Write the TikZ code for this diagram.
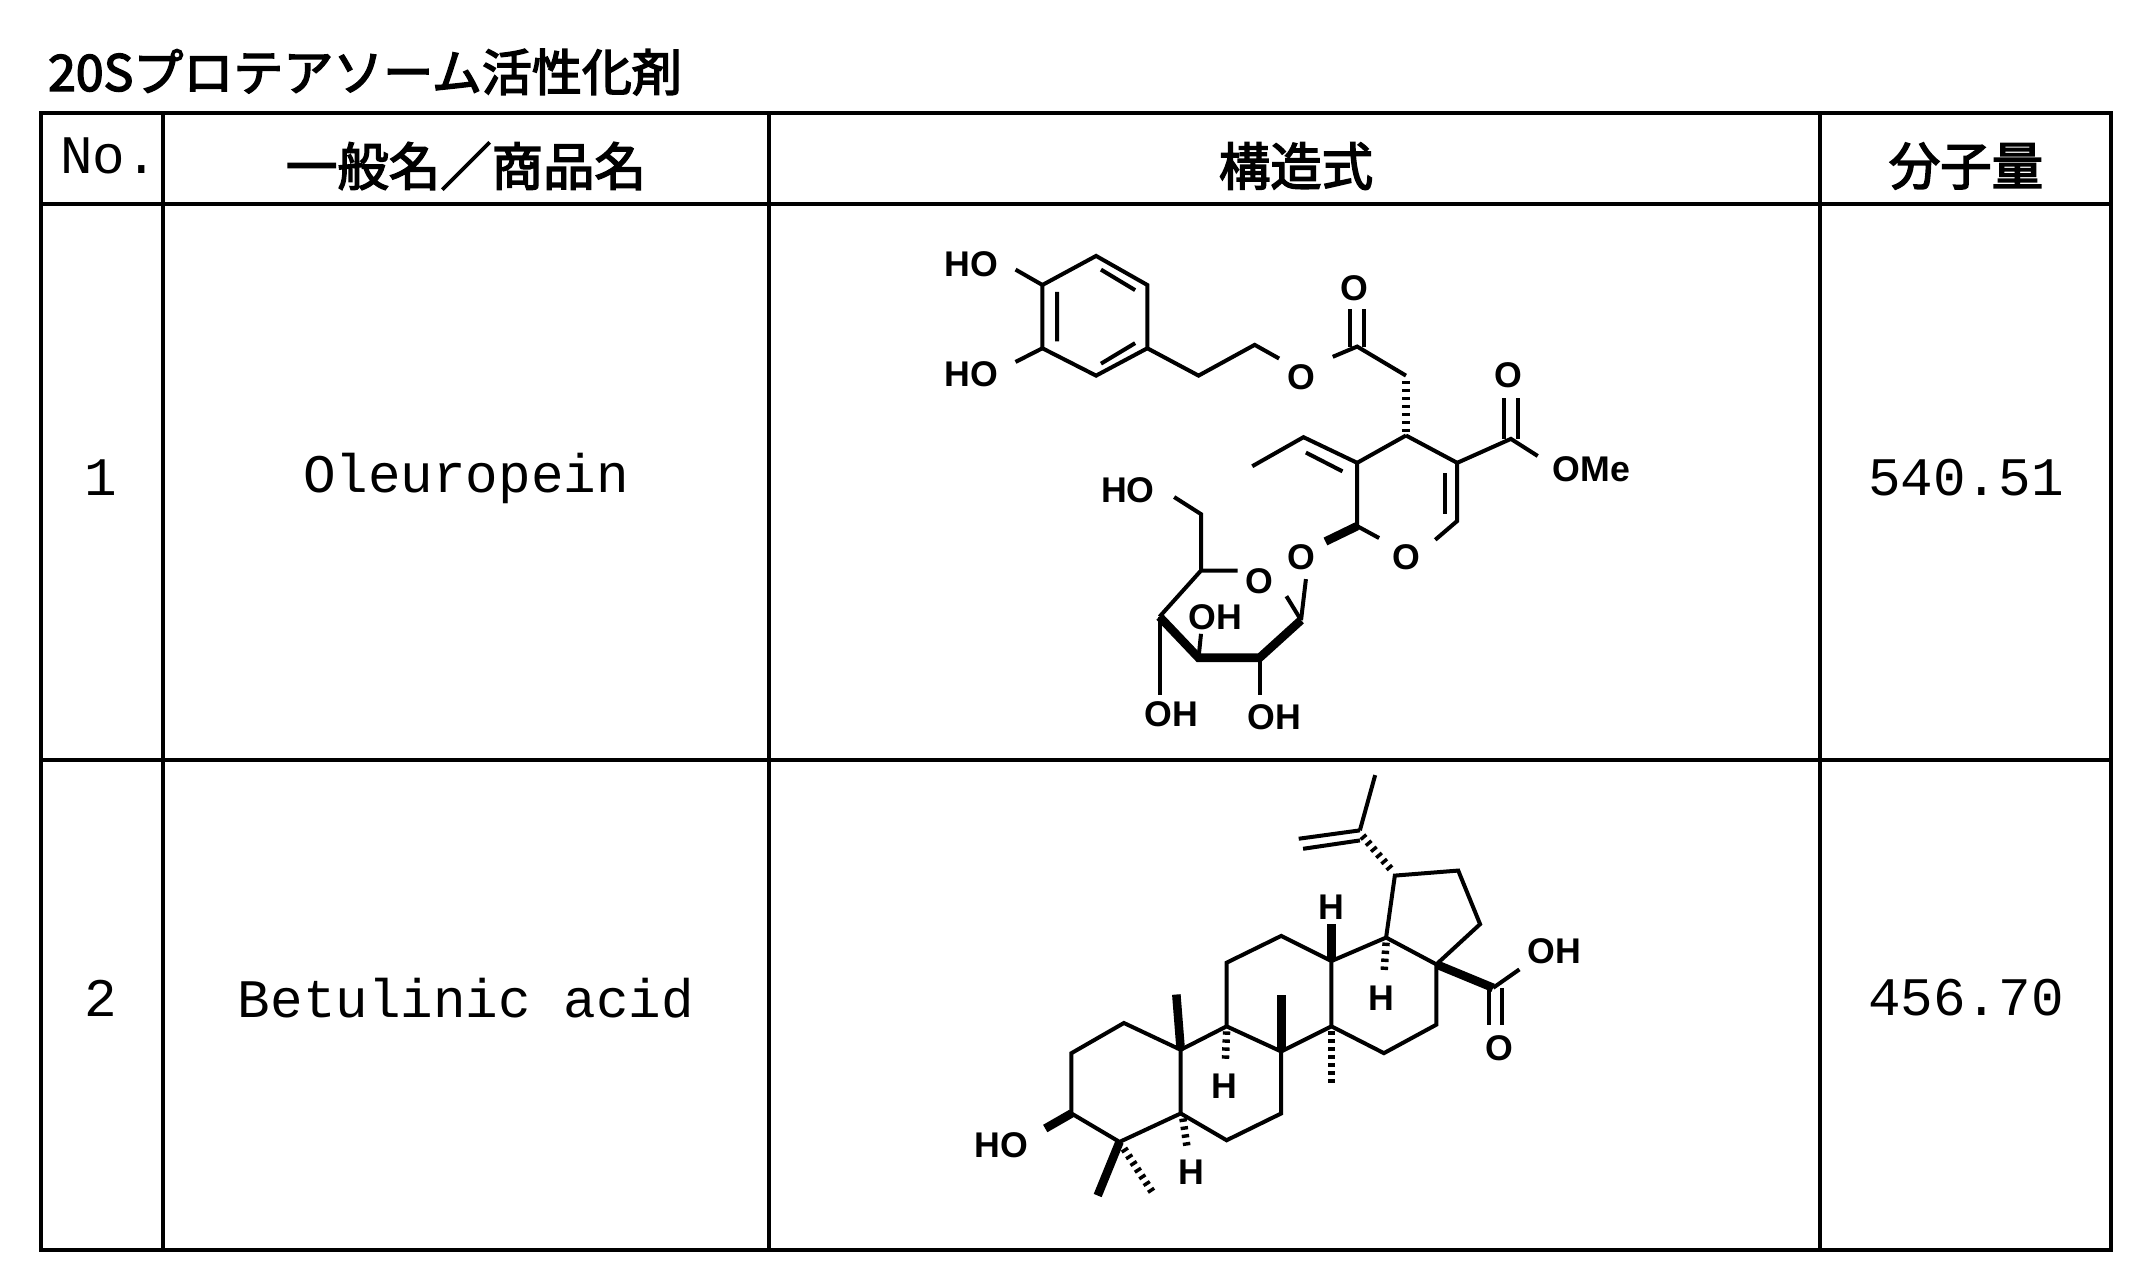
\documentclass[tikz,border=0pt]{standalone}
\usepackage{fontspec}
\setmainfont{Liberation Sans}
\newfontfamily\cjk{Noto Sans CJK JP}[AutoFakeBold=3]
\newfontfamily\mono{Liberation Mono}
\begin{document}
\begin{tikzpicture}[x=0.35pt,y=-0.35pt,
 grid/.style={line width=1.1pt},
 bd/.style={line width=1.4pt},
 wd/.style={line width=3pt},
 hs/.style={line width=2.6pt,dash pattern=on 1.2pt off 1.6pt},
 lab/.style={font=\bfseries\fontsize{12.5}{12.5}\selectfont,inner sep=0.5pt},
 hd/.style={font=\cjk\bfseries\fontsize{18}{18}\selectfont},
 cell/.style={font=\mono\fontsize{19}{19}\selectfont}]
\useasboundingbox (0,0) rectangle (2154,1279);
\node[font=\cjk\bfseries\fontsize{17.5}{17.5}\selectfont,anchor=west] (title) at (38,72) {20Sプロテアソーム活性化剤};
% table
\draw[grid] (41,113) rectangle (2111,1250);
\draw[grid] (41,204) -- (2111,204) (41,760) -- (2111,760);
\draw[grid] (163,113) -- (163,1250) (769,113) -- (769,1250) (1820,113) -- (1820,1250);
\node[cell,anchor=west] (no) at (50,156) {No.};
\node[hd] (h1) at (466,166) {一般名／商品名};
\node[hd] (h2) at (1296,166) {構造式};
\node[hd] (h3) at (1966,166) {分子量};
\node[cell] (n1) at (101,478) {1};
\node[cell] (c1) at (466,478) {Oleuropein};
\node[cell] (m1) at (1966,478) {540.51};
\node[cell] (n2) at (101,998) {2};
\node[cell] (c2) at (466,998) {Betulinic acid};
\node[cell] (m2) at (1966,998) {456.70};
% Oleuropein
\begin{scope}[shift={(896,220)},xscale=0.488,yscale=0.342]
\draw[bd] (410,105)--(515,190)--(515,375)--(410,455)--(300,375)--(300,190)--cycle;
\draw[bd] (420,145)--(490,205) (330,210)--(330,355) (420,420)--(490,360);
\draw[bd] (245,145)--(300,190) (245,415)--(300,375);
\node[lab] (ho1) at (155,130) {HO};
\node[lab] (ho2) at (155,450) {HO};
\draw[bd] (515,375)--(620,455)--(735,365)--(785,405);
\node[lab] (o1) at (830,460) {O};
\draw[bd] (895,400)--(945,370)--(1045,455);
\draw[bd] (930,370)--(930,260) (960,370)--(960,260);
\node[lab] (o2) at (940,200) {O};
\draw[hs] (1045,470)--(1045,625);
\draw[bd] (1045,630)--(1150,710)--(1150,880)--(1105,935);
\draw[bd] (1125,740)--(1125,860);
\node[lab] (o3) at (1045,985) {O};
\draw[bd] (990,930)--(945,895)--(945,710)--(1045,630);
\draw[bd] (945,710)--(835,635)--(730,720) (915,735)--(840,680);
\draw[bd] (1150,710)--(1260,640)--(1315,690);
\draw[bd] (1245,640)--(1245,520) (1275,640)--(1275,520);
\node[lab] (o4) at (1255,455) {O};
\node[lab] (ome) at (1425,730) {OMe};
\draw[wd] (945,895)--(880,940);
\node[lab] (o5) at (830,985) {O};
\draw[bd] (840,1050)--(830,1170);
\draw[bd] (800,1100)--(830,1170);
\node[lab] (o6) at (745,1055) {O};
\draw[bd] (700,1025)--(625,1025)--(540,1160);
\draw[wd] (540,1160)--(620,1280)--(745,1280)--(830,1170);
\draw[bd] (625,1025)--(625,860)--(570,810);
\node[lab] (ho3) at (475,790) {HO};
\draw[bd] (620,1280)--(625,1210);
\node[lab] (oh1) at (655,1160) {OH};
\draw[bd] (540,1160)--(540,1390);
\node[lab] (oh2) at (565,1445) {OH};
\draw[bd] (745,1280)--(745,1390);
\node[lab] (oh3) at (775,1455) {OH};
\end{scope}
% Betulinic acid
\begin{scope}[shift={(936,760)},xscale=0.437,yscale=0.335]
\draw[bd] (430,785)--(560,865)--(560,1055)--(420,1140)--(310,1055)--(310,875)--cycle;
\draw[bd] (560,865)--(665,795)--(790,870)--(790,1055)--(665,1135)--(560,1055);
\draw[bd] (665,795)--(665,605)--(790,525)--(905,600)--(905,795)--(790,870);
\draw[bd] (905,600)--(1030,530)--(1145,610)--(1145,790)--(1025,875)--(905,795);
\draw[bd] (1030,530)--(1050,345)--(1195,330)--(1245,490)--(1145,610);
\draw[hs] (1040,325)--(975,225);
\draw[bd] (970,210)--(1005,45);
\draw[bd] (970,210)--(830,235) (970,240)--(840,265);
\draw[wd] (1145,610)--(1275,680);
\draw[bd] (1275,680)--(1335,625);
\node[lab] (oh4) at (1415,570) {OH};
\draw[bd] (1265,680)--(1265,790) (1295,680)--(1295,790);
\node[lab] (o7) at (1290,860) {O};
\draw[wd] (560,865)--(550,700);
\draw[wd] (790,870)--(790,700);
\draw[hs] (905,810)--(905,965);
\draw[wd] (905,600)--(905,490);
\node[lab] (h1a) at (905,440) {H};
\draw[hs] (1030,545)--(1025,640);
\node[lab] (h2a) at (1020,710) {H};
\draw[hs] (665,810)--(662,905);
\node[lab] (h3a) at (660,975) {H};
\draw[hs] (565,1070)--(575,1160);
\node[lab] (h4a) at (585,1230) {H};
\draw[wd] (310,1055)--(250,1100);
\node[lab] (ho4) at (150,1150) {HO};
\draw[wd] (420,1140)--(370,1300);
\draw[hs] (430,1160)--(495,1290);
\end{scope}
\end{tikzpicture}
\end{document}
